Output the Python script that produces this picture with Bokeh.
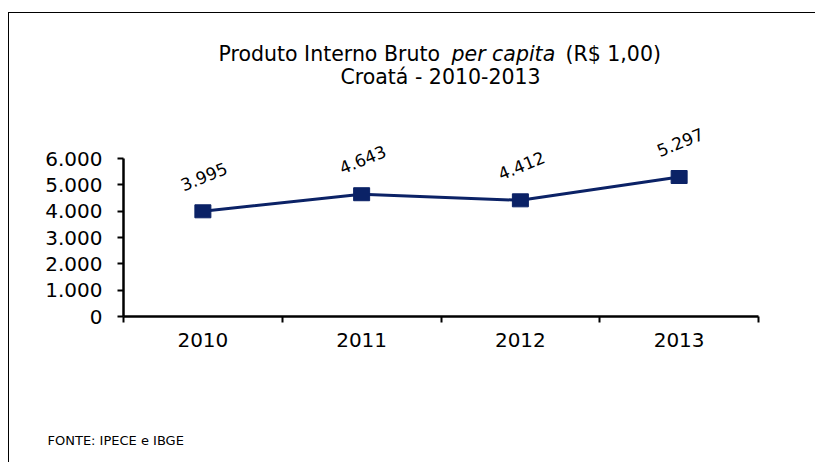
from bokeh.plotting import figure
from bokeh.models import Range1d, FixedTicker, Label, ColumnDataSource
from bokeh.core.properties import value
from bokeh.embed import file_html
from bokeh.resources import INLINE

# ---- data ----
years = ["2010", "2011", "2012", "2013"]
pib_per_capita = [3995, 4643, 4412, 5297]
pib_labels = ["3.995", "4.643", "4.412", "5.297"]
y_ticks = [0, 1000, 2000, 3000, 4000, 5000, 6000]
y_tick_labels = ["0", "1.000", "2.000", "3.000", "4.000", "5.000", "6.000"]
title_part1 = "Produto Interno Bruto "
title_part2 = "per capita"
title_part3 = "(R$ 1,00)"
title_line2 = "Croatá - 2010-2013"
footer = "FONTE: IPECE e IBGE"

FONT = "DejaVu Sans"
NAVY = "#0b2266"

W, H = 815, 462
# pixel geometry of the plotting area inside the canvas
AX_L, AX_R, AX_B, AX_T = 123, 758, 316, 158   # x of 0.5 / 4.5, y of 0 / 6000
n = len(years)
ux = (AX_R - AX_L) / n            # px per category
uy = (AX_B - AX_T) / 6000          # px per unit
x0 = 0.5 - AX_L / ux
x1 = 0.5 + n + (W - AX_R) / ux
y0 = -(H - AX_B) / uy
y1 = AX_B / uy

p = figure(width=W, height=H, output_backend="svg", toolbar_location=None,
           x_range=Range1d(x0, x1), y_range=Range1d(y0, y1),
           min_border=0)
p.outline_line_color = None
p.grid.visible = False
p.background_fill_color = None
p.border_fill_color = None
# outer chart-area border: only its left and top edges fall inside the window
p.styles = {
    "background-color": "white",
    "background-image": "linear-gradient(#000, #000), linear-gradient(#000, #000)",
    "background-size": "1px 100%, 100% 1px",
    "background-position": "8px 12px, 8px 12px",
    "background-repeat": "no-repeat",
}

xs = [i + 1 for i in range(n)]
src = ColumnDataSource(dict(x=xs, y=pib_per_capita, lab=pib_labels))

# axes (drawn at fixed data positions inside the canvas)
xa = p.xaxis[0]
xa.fixed_location = 0
xa.bounds = (0.5, n + 0.5)
xa.ticker = FixedTicker(ticks=xs, minor_ticks=[x - 0.5 for x in xs] + [xs[-1] + 0.5])
xa.major_label_overrides = {x: yr for x, yr in zip(xs, years)}
xa.major_tick_out = 0
xa.major_tick_in = 0
xa.minor_tick_out = 6
xa.minor_tick_in = 0
xa.minor_tick_line_color = "black"
xa.minor_tick_line_width = 2
xa.axis_line_width = 2.5
xa.axis_line_color = "black"
xa.major_label_text_font = FONT
xa.major_label_text_font_size = "20px"
xa.major_label_text_color = "black"
xa.major_label_standoff = 10

ya = p.yaxis[0]
ya.fixed_location = 0.5
ya.bounds = (0, 6000)
ya.ticker = FixedTicker(ticks=y_ticks, minor_ticks=[])
ya.major_label_overrides = {t: l for t, l in zip(y_ticks, y_tick_labels)}
ya.major_tick_out = 6
ya.major_tick_in = 0
ya.major_tick_line_width = 2
ya.major_tick_line_color = "black"
ya.axis_line_width = 2.5
ya.axis_line_color = "black"
ya.major_label_text_font = FONT
ya.major_label_text_font_size = "20px"
ya.major_label_text_color = "black"
ya.major_label_standoff = 15

# series
p.line("x", "y", source=src, line_color=NAVY, line_width=3)
p.rect("x", "y", source=src, width=16, height=13, width_units="screen",
       height_units="screen", fill_color=NAVY, line_color=NAVY)
p.text("x", "y", text="lab", source=src, y_offset=-35, x_offset=1,
       angle=22, angle_units="deg", text_align="center", text_baseline="middle",
       text_font=value(FONT), text_font_size="17px", text_color="black")

# texts in screen units (frame == whole canvas, origin bottom-left)
def sx(cx):
    return cx

def sy(cy):
    return H - cy

for txt, cx, style in [(title_part1, 218, "normal"), (title_part2, 451, "italic"), (title_part3, 565, "normal")]:
    p.add_layout(Label(x=sx(cx), y=sy(53.5), x_units="screen", y_units="screen", text=txt,
                       text_font=FONT, text_font_size="20.5px", text_font_style=style,
                       text_align="left", text_baseline="alphabetic", text_color="black"))
p.add_layout(Label(x=sx(440), y=sy(76), x_units="screen", y_units="screen", text=title_line2,
                   text_font=FONT, text_font_size="20.5px", text_align="center",
                   text_baseline="alphabetic", text_color="black"))
p.add_layout(Label(x=sx(47), y=sy(440), x_units="screen", y_units="screen", text=footer,
                   text_font=FONT, text_font_size="13px", text_align="left",
                   text_baseline="alphabetic", text_color="black"))

open("out.html", "w").write(file_html(p, INLINE))
